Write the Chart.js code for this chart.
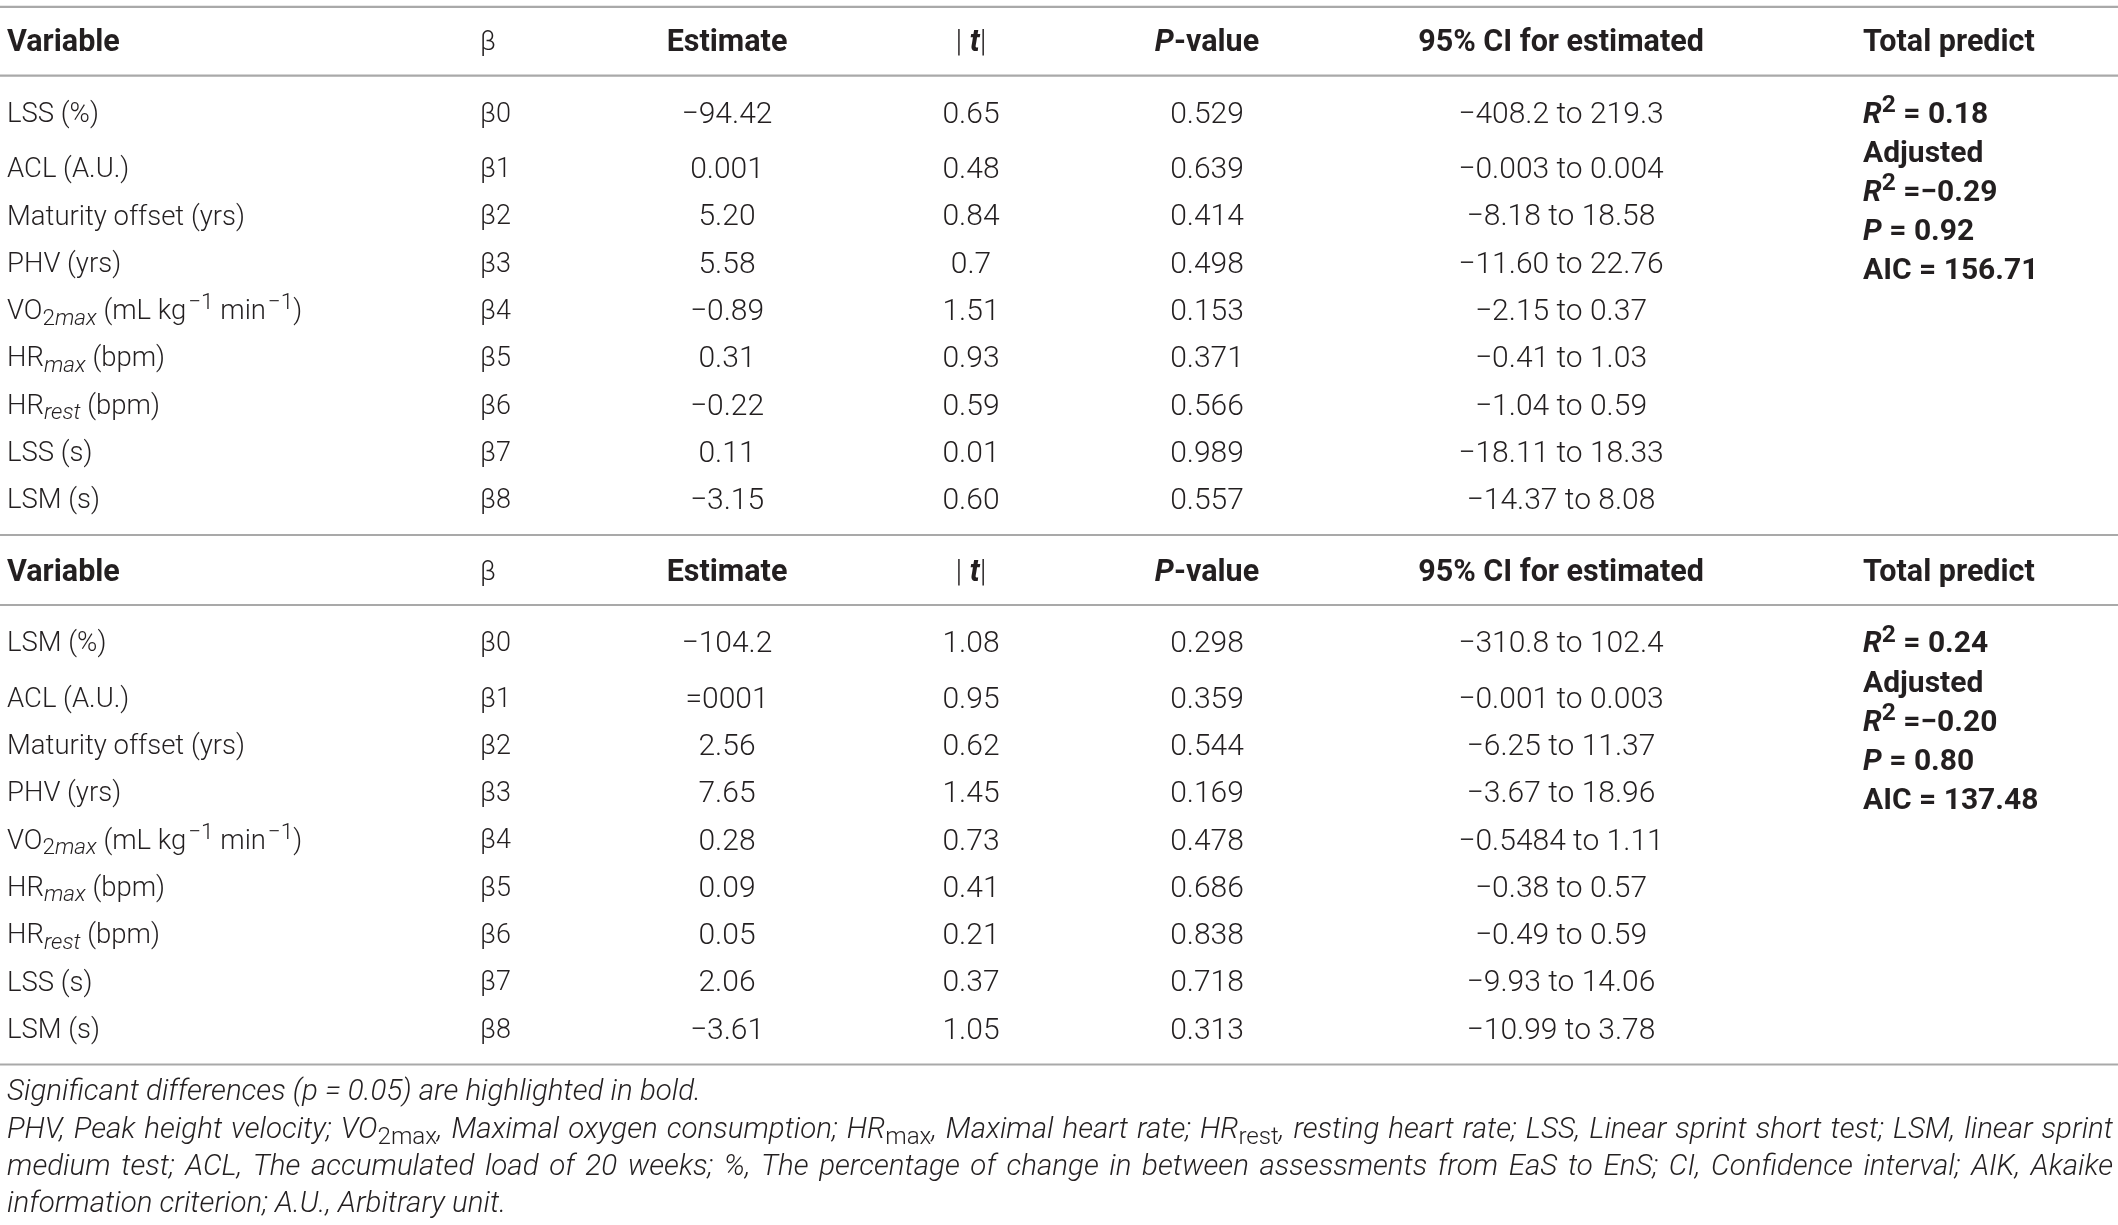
<!DOCTYPE html>
<html>
<head>
<meta charset="utf-8">
<script src="https://cdn.jsdelivr.net/npm/chart.js@4/dist/chart.umd.min.js"></script>
<style>
html,body{margin:0;padding:0;background:#fff;}
#wrap{width:2118px;height:1225px;}
canvas{display:block;}
</style>
</head>
<body>
<div id="wrap"><canvas id="c" width="2118" height="1225"></canvas></div>
<script>
// ---------------- data ----------------
const headers = ["<b>Variable</b>", "β", "<b>Estimate</b>", "| <b><i>t</i></b>|", "<b><i>P</i>-value</b>", "<b>95% CI for estimated</b>", "<b>Total predict</b>"];
const betas = ["β0","β1","β2","β3","β4","β5","β6","β7","β8"];

const variables1 = ["LSS (%)", "ACL (A.U.)", "Maturity offset (yrs)", "PHV (yrs)",
  "VO<sub>2<i>max</i></sub> (mL kg<sup>−1</sup> min<sup>−1</sup>)", "HR<sub><i>max</i></sub> (bpm)",
  "HR<sub><i>rest</i></sub> (bpm)", "LSS (s)", "LSM (s)"];
const estimate1 = ["−94.42","0.001","5.20","5.58","−0.89","0.31","−0.22","0.11","−3.15"];
const tAbs1 = ["0.65","0.48","0.84","0.7","1.51","0.93","0.59","0.01","0.60"];
const pValue1 = ["0.529","0.639","0.414","0.498","0.153","0.371","0.566","0.989","0.557"];
const ci1 = ["−408.2 to 219.3","−0.003 to 0.004","−8.18 to 18.58","−11.60 to 22.76","−2.15 to 0.37",
  "−0.41 to 1.03","−1.04 to 0.59","−18.11 to 18.33","−14.37 to 8.08"];
const total1 = ["<b><i>R</i><sup>2</sup> = 0.18</b>","<b>Adjusted</b>","<b><i>R</i><sup>2</sup> =−0.29</b>","<b><i>P</i> = 0.92</b>","<b>AIC = 156.71</b>"];

const variables2 = ["LSM (%)", "ACL (A.U.)", "Maturity offset (yrs)", "PHV (yrs)",
  "VO<sub>2<i>max</i></sub> (mL kg<sup>−1</sup> min<sup>−1</sup>)", "HR<sub><i>max</i></sub> (bpm)",
  "HR<sub><i>rest</i></sub> (bpm)", "LSS (s)", "LSM (s)"];
const estimate2 = ["−104.2","=0001","2.56","7.65","0.28","0.09","0.05","2.06","−3.61"];
const tAbs2 = ["1.08","0.95","0.62","1.45","0.73","0.41","0.21","0.37","1.05"];
const pValue2 = ["0.298","0.359","0.544","0.169","0.478","0.686","0.838","0.718","0.313"];
const ci2 = ["−310.8 to 102.4","−0.001 to 0.003","−6.25 to 11.37","−3.67 to 18.96","−0.5484 to 1.11",
  "−0.38 to 0.57","−0.49 to 0.59","−9.93 to 14.06","−10.99 to 3.78"];
const total2 = ["<b><i>R</i><sup>2</sup> = 0.24</b>","<b>Adjusted</b>","<b><i>R</i><sup>2</sup> =−0.20</b>","<b><i>P</i> = 0.80</b>","<b>AIC = 137.48</b>"];

const footnotes = [
  "Significant differences (p = 0.05) are highlighted in bold.",
  "PHV, Peak height velocity; VO<sub><n>2max</n></sub>, Maximal oxygen consumption; HR<sub><n>max</n></sub>, Maximal heart rate; HR<sub><n>rest</n></sub>, resting heart rate; LSS, Linear sprint short test; LSM, linear sprint",
  "medium test; ACL, The accumulated load of 20 weeks; %, The percentage of change in between assessments from EaS to EnS; CI, Confidence interval; AIK, Akaike",
  "information criterion; A.U., Arbitrary unit."
];
const footJustify = [false, true, true, false];

// ---------------- layout (page units = pixels) ----------------
const LAYOUT = {
  width: 2118, height: 1225,
  cols: [ {x: 7, align: 'left', size: 27.5}, {x: 480, align: 'left', size: 27}, {x: 727, align: 'center', size: 30},
          {x: 971, align: 'center', size: 30}, {x: 1207, align: 'center', size: 30},
          {x: 1561, align: 'center', size: 30}, {x: 1863, align: 'left', size: 30} ],
  headerSizes: [30.5, 27, 30.5, 30.5, 30.5, 30.5, 30.5],
  tables: [
    {headerY: 40.5, rowY0: 112, rowY1: 167.5, pitch: 47.3, totalY0: 112, totalPitch: 39.2},
    {headerY: 570,  rowY0: 641.6, rowY1: 697, pitch: 47.3, totalY0: 641.7, totalPitch: 39.2}
  ],
  rules: [6.8, 75.6, 535, 605, 1064.5],
  footY: [1090, 1128, 1164.5, 1202],
  footLeft: 7, footRight: 2113,
  footSize: 29.5,
  scriptScale: 0.82,
  color: '#231f20', ruleColor: '#a9a9a9'
};
const FAMILY = 'Roboto, "Liberation Sans", Arial, sans-serif';

function rowY(t, i){ return i === 0 ? t.rowY0 : t.rowY1 + (i - 1) * t.pitch; }

// ---------------- build datasets ----------------
const textSets = [];
function cell(x, y, text, align, opts){ return {x, y, text, align, opts: opts || {}}; }

const tableData = [
  {vars: variables1, est: estimate1, t: tAbs1, p: pValue1, ci: ci1, total: total1},
  {vars: variables2, est: estimate2, t: tAbs2, p: pValue2, ci: ci2, total: total2}
];
tableData.forEach((td, k) => {
  const L = LAYOUT.tables[k];
  textSets.push(headers.map((h, c) => cell(LAYOUT.cols[c].x, L.headerY, h, LAYOUT.cols[c].align,
    {size: LAYOUT.headerSizes[c]})));
  const colsArr = [td.vars, betas, td.est, td.t, td.p, td.ci];
  colsArr.forEach((arr, c) => {
    textSets.push(arr.map((v, i) => cell(LAYOUT.cols[c].x, rowY(L, i), v, LAYOUT.cols[c].align,
      {size: LAYOUT.cols[c].size})));
  });
  textSets.push(td.total.map((v, i) => cell(LAYOUT.cols[6].x, L.totalY0 + i * L.totalPitch, v, 'left',
    {size: LAYOUT.cols[6].size})));
});
textSets.push(footnotes.map((f, i) => cell(LAYOUT.footLeft, LAYOUT.footY[i], '<i>' + f + '</i>', 'left',
  {justify: footJustify[i], right: LAYOUT.footRight, size: LAYOUT.footSize})));

const datasets = [];
LAYOUT.rules.forEach(y => {
  datasets.push({type: 'line', data: [{x: 0, y}, {x: LAYOUT.width, y}], borderColor: LAYOUT.ruleColor,
    borderWidth: 2.2, pointRadius: 0, fill: false, cells: null});
});
textSets.forEach(set => {
  datasets.push({type: 'scatter', data: set.map(s => ({x: s.x, y: s.y})), pointRadius: 0, cells: set});
});

// ---------------- rich text ----------------
function parse(m){
  const parts = m.split(/(<\/?(?:i|b|n|sub|sup)>)/);
  const st = {i:0,b:0,n:0,sub:0,sup:0};
  const runs = [];
  for (const p of parts){
    if (!p) continue;
    const mt = p.match(/^<(\/?)(i|b|n|sub|sup)>$/);
    if (mt){ st[mt[2]] += mt[1] ? -1 : 1; continue; }
    runs.push({t: p, i: st.i > 0 && st.n === 0, b: st.b > 0, sub: st.sub > 0, sup: st.sup > 0});
  }
  return runs;
}
function fontFor(r, size){
  const s = (r.sub || r.sup) ? size * LAYOUT.scriptScale : size;
  return (r.i ? 'italic ' : '') + (r.b ? '700 ' : '300 ') + s.toFixed(2) + 'px ' + FAMILY;
}
function drawRich(ctx, markup, x, y, align, opts){
  const size = opts.size || 28;
  let runs = parse(markup);
  if (opts.justify){
    const split = [];
    runs.forEach(r => r.t.split(/( )/).forEach(w => { if (w) split.push(Object.assign({}, r, {t: w})); }));
    runs = split;
  }
  let total = 0;
  runs.forEach(r => {
    ctx.font = fontFor(r, size);
    r.pad = (r.sup && !r.b) ? size * 0.07 : 0;
    r.w = ctx.measureText(r.t).width + r.pad;
    total += r.w;
  });
  let extra = 0;
  if (opts.justify){
    const spaces = runs.filter(r => r.t === ' ').length;
    extra = spaces ? (opts.right - x - total) / spaces : 0;
  }
  let cx = x;
  if (align === 'center') cx = x - total / 2;
  else if (align === 'right') cx = x - total;
  const base = y + size * 0.355;
  ctx.fillStyle = LAYOUT.color;
  ctx.textBaseline = 'alphabetic';
  ctx.textAlign = 'left';
  runs.forEach(r => {
    ctx.font = fontFor(r, size);
    let by = base;
    if (r.sub) by += size * 0.2;
    if (r.sup) by -= size * 0.36;
    ctx.fillText(r.t, cx + r.pad, by);
    cx += r.w + (r.t === ' ' ? extra : 0);
  });
}

const tablePlugin = {
  id: 'tableText',
  afterDatasetsDraw(chart){
    const ctx = chart.ctx;
    ctx.save();
    chart.data.datasets.forEach((ds, di) => {
      if (!ds.cells) return;
      const meta = chart.getDatasetMeta(di);
      meta.data.forEach((el, i) => {
        const c = ds.cells[i];
        drawRich(ctx, c.text, el.x, el.y, c.align, c.opts);
      });
    });
    ctx.restore();
  }
};

new Chart(document.getElementById('c').getContext('2d'), {
  type: 'scatter',
  data: {datasets},
  options: {
    responsive: false, animation: false, devicePixelRatio: 1,
    layout: {padding: 0},
    plugins: {legend: {display: false}, tooltip: {enabled: false}},
    events: [],
    scales: {
      x: {type: 'linear', min: 0, max: LAYOUT.width, display: false},
      y: {type: 'linear', min: 0, max: LAYOUT.height, reverse: true, display: false}
    }
  },
  plugins: [tablePlugin]
});
</script>
</body>
</html>
